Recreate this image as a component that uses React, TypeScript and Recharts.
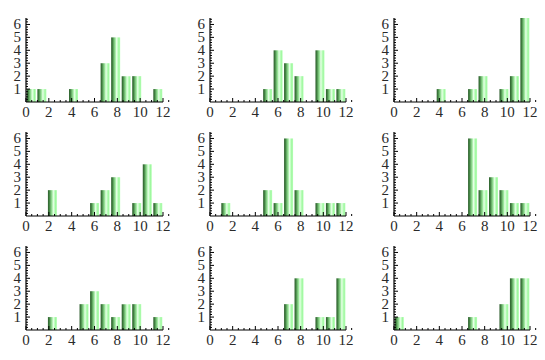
import React from "react";
import { BarChart, Bar, XAxis, YAxis } from "recharts";

const bins = [0, 1, 2, 3, 4, 5, 6, 7, 8, 9, 10, 11, 12];
const xMajorTicks = [0, 2, 4, 6, 8, 10, 12];
const yMajorTicks = [1, 2, 3, 4, 5, 6];

const counts1 = [1, 1, 0, 0, 1, 0, 0, 3, 5, 2, 2, 0, 1];
const counts2 = [0, 0, 0, 0, 0, 1, 4, 3, 2, 0, 4, 1, 1];
const counts3 = [0, 0, 0, 0, 1, 0, 0, 1, 2, 0, 1, 2, 7];
const counts4 = [0, 0, 2, 0, 0, 0, 1, 2, 3, 0, 1, 4, 1];
const counts5 = [0, 1, 0, 0, 0, 2, 1, 6, 2, 0, 1, 1, 1];
const counts6 = [0, 0, 0, 0, 0, 0, 0, 6, 2, 3, 2, 1, 1];
const counts7 = [0, 0, 1, 0, 0, 2, 3, 2, 1, 2, 2, 0, 1];
const counts8 = [0, 0, 0, 0, 0, 0, 0, 2, 4, 0, 1, 1, 4];
const counts9 = [1, 0, 0, 0, 0, 0, 0, 1, 0, 0, 2, 4, 4];

const panels = [counts1, counts2, counts3, counts4, counts5, counts6, counts7, counts8, counts9];

const colPlotX = [26, 210, 394];
const colPlotW = [137, 136, 136];
const rowPlotTop = [18, 132, 246];
const PLOT_H = 84;
const LEFT = 30;
const TOP = 6;
const RIGHT = 8;
const BOTTOM = 24;

const xAllTicks: number[] = [];
for (let i = 0; i <= 26; i++) xAllTicks.push(i / 2);
const yAllTicks: number[] = [];
for (let i = 1; i <= 32; i++) yAllTicks.push(Math.round(i * 2) / 10);

const TEXT_STYLE: React.CSSProperties = {
  fontFamily: "Liberation Serif, Times New Roman, Times, serif",
  fontSize: 15,
  fill: "#2a2a2a",
};

const XTick = (props: any) => {
  const { x, y, payload } = props;
  const v = payload.value;
  const major = xMajorTicks.includes(v);
  return (
    <g>
      <line x1={x} x2={x} y1={y} y2={y - (major ? 4 : 2)} stroke="#000" strokeWidth={1} />
      {major && (
        <text x={x} y={y + 15} textAnchor="middle" style={TEXT_STYLE}>
          {v}
        </text>
      )}
    </g>
  );
};

const YTick = (props: any) => {
  const { x, y, payload } = props;
  const v = payload.value;
  const major = yMajorTicks.includes(v);
  return (
    <g>
      <line x1={x} x2={x + (major ? 4 : 2)} y1={y} y2={y} stroke="#000" strokeWidth={1} />
      {major && (
        <text x={x - 5} y={y + 5} textAnchor="end" style={TEXT_STYLE}>
          {v}
        </text>
      )}
    </g>
  );
};

const Panel = ({ counts, idx }: { counts: number[]; idx: number }) => {
  const col = idx % 3;
  const row = Math.floor(idx / 3);
  const w = LEFT + colPlotW[col] + RIGHT;
  const h = TOP + PLOT_H + BOTTOM;
  const data = bins.map((b, i) => ({ bin: b, count: counts[i] }));
  const gid = `barGrad${idx}`;
  return (
    <div style={{ position: "absolute", left: colPlotX[col] - LEFT, top: rowPlotTop[row] - TOP }}>
      <BarChart
        width={w}
        height={h}
        data={data}
        margin={{ top: TOP, right: RIGHT, bottom: 0, left: 0 }}
        barCategoryGap="8%"
      >
        <defs>
          <linearGradient id={gid} x1="0" y1="0" x2="1" y2="0">
            <stop offset="0%" stopColor="#2e5e2e" />
            <stop offset="15%" stopColor="#3f7f3f" />
            <stop offset="30%" stopColor="#6fb86f" />
            <stop offset="45%" stopColor="#9be69b" />
            <stop offset="60%" stopColor="#e6ffe6" />
            <stop offset="72%" stopColor="#c4ffc4" />
            <stop offset="85%" stopColor="#9ef79e" />
            <stop offset="100%" stopColor="#b8ffb8" />
          </linearGradient>
        </defs>
        <XAxis
          xAxisId="num"
          type="number"
          domain={[0, 13]}
          allowDataOverflow
          ticks={xAllTicks}
          interval={0}
          height={BOTTOM}
          tickSize={0}
          tickMargin={0}
          tickLine={false}
          axisLine={{ stroke: "#000", strokeWidth: 1.2 }}
          tick={<XTick />}
        />
        <XAxis xAxisId="cat" dataKey="bin" type="category" hide height={0} />
        <YAxis
          type="number"
          domain={[0, 6.5]}
          allowDataOverflow
          ticks={yAllTicks}
          interval={0}
          width={LEFT}
          tickSize={0}
          tickMargin={0}
          tickLine={false}
          axisLine={{ stroke: "#000", strokeWidth: 1.2 }}
          tick={<YTick />}
        />
        <Bar xAxisId="cat" dataKey="count" fill={`url(#${gid})`} isAnimationActive={false} />
      </BarChart>
    </div>
  );
}

export default function App() {
  return (
    <div style={{ position: "absolute", left: 0, top: 0, width: 545, height: 360, background: "#fff" }}>
      {panels.map((c, i) => (
        <Panel key={i} counts={c} idx={i} />
      ))}
    </div>
  );
}
